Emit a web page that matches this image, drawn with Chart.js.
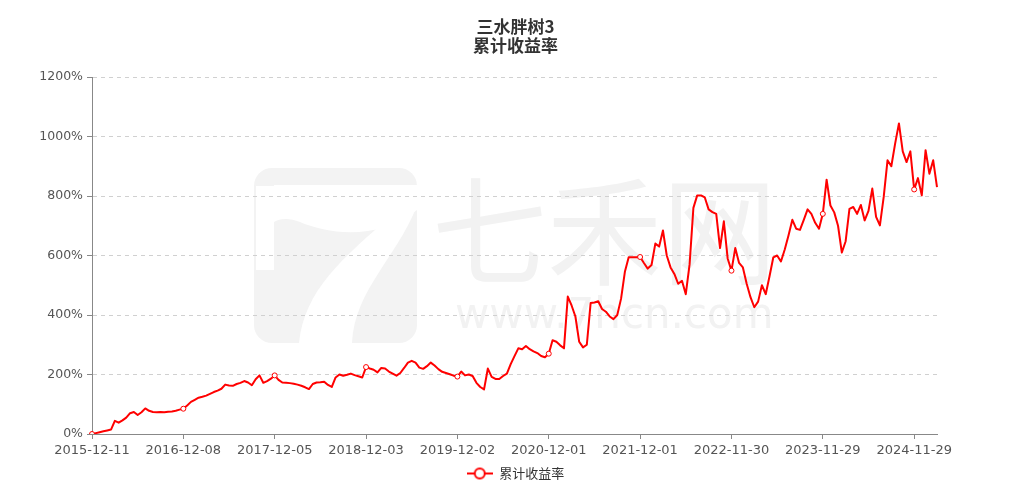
<!DOCTYPE html>
<html>
<head>
<meta charset="utf-8">
<script src="https://cdn.jsdelivr.net/npm/chart.js@4/dist/chart.umd.min.js"></script>
<style>
  html, body { margin: 0; padding: 0; background: #fff; }
  #wrap { width: 1013px; height: 488px; }
</style>
</head>
<body>
<div id="wrap"><canvas id="chart" width="1013" height="488"></canvas></div>
<script>
// x axis tick labels, one every 24 samples
const tickLabels = ["2015-12-11", "2016-12-08", "2017-12-05", "2018-12-03", "2019-12-02",
  "2020-12-01", "2021-12-01", "2022-11-30", "2023-11-29", "2024-11-29"];
const perTick = 24;

// cumulative return (%), one block per year
const ret2016 = [0, 3, 6, 9, 12, 15, 44, 38, 46, 55, 70, 74, 64, 73, 86, 78, 74, 73, 74, 73, 75, 76, 78, 82];
const ret2017 = [85, 96, 108, 115, 122, 125, 129, 135, 141, 146, 152, 166, 163, 162, 168, 172, 178, 173, 164, 184, 197, 172, 178, 186];
const ret2018 = [197, 182, 173, 172, 171, 169, 166, 162, 157, 151, 168, 173, 174, 176, 165, 158, 190, 200, 196, 199, 203, 198, 194, 190];
const ret2019 = [225, 220, 216, 207, 222, 220, 210, 203, 196, 205, 222, 240, 246, 240, 223, 219, 228, 240, 230, 218, 209, 205, 201, 196];
const ret2020 = [193, 210, 197, 200, 195, 172, 158, 150, 220, 192, 185, 185, 195, 203, 235, 262, 288, 285, 296, 285, 278, 272, 262, 258];
const ret2021 = [270, 315, 310, 298, 288, 462, 432, 395, 310, 291, 300, 440, 442, 446, 420, 411, 395, 386, 400, 455, 545, 594, 594, 594];
const ret2022 = [595, 575, 556, 568, 640, 630, 684, 600, 560, 538, 505, 515, 470, 570, 760, 802, 802, 795, 755, 746, 740, 625, 715, 590];
const ret2023 = [549, 625, 575, 560, 505, 460, 426, 445, 500, 470, 530, 594, 600, 580, 620, 668, 720, 690, 686, 720, 755, 740, 710, 690];
const ret2024 = [740, 855, 768, 745, 700, 610, 648, 757, 763, 740, 770, 718, 750, 825, 730, 701, 797, 920, 900, 976, 1044, 950, 914, 950];
const ret2025 = [822, 860, 802, 954, 875, 920, 830];

const values = [].concat(ret2016, ret2017, ret2018, ret2019, ret2020, ret2021, ret2022, ret2023, ret2024, ret2025);
const labels = values.map((v, i) => (i % perTick === 0 ? tickLabels[i / perTick] : ""));

const red = "#ff0000";

// legend symbol: line with a hollow circle
const legendIcon = document.createElement("canvas");
legendIcon.width = 26;
legendIcon.height = 14;
(() => {
  const c = legendIcon.getContext("2d");
  c.strokeStyle = red;
  c.lineWidth = 2;
  c.beginPath();
  c.moveTo(0, 7);
  c.lineTo(26, 7);
  c.stroke();
  c.fillStyle = "#fff";
  c.beginPath();
  c.arc(13, 7, 5, 0, Math.PI * 2);
  c.fill();
  c.stroke();
})();

// faint site watermark behind the plot
const watermark = {
  id: "watermark",
  beforeDraw(chart) {
    const ctx = chart.ctx;
    ctx.save();
    ctx.fillStyle = "#f3f3f3";
    ctx.beginPath();
    ctx.roundRect(254, 168, 163, 175, 18);
    ctx.fill();
    ctx.fillStyle = "#fff";
    ctx.fillRect(256, 186, 18, 84);
    ctx.beginPath();
    ctx.moveTo(274, 185);
    ctx.lineTo(417, 185);
    ctx.lineTo(417, 210);
    ctx.bezierCurveTo(380, 240, 330, 235, 300, 222);
    ctx.bezierCurveTo(290, 218, 280, 218, 274, 222);
    ctx.closePath();
    ctx.fill();
    ctx.beginPath();
    ctx.moveTo(397, 211);
    ctx.lineTo(417, 206);
    ctx.bezierCurveTo(395, 260, 355, 290, 352, 343);
    ctx.lineTo(299, 343);
    ctx.bezierCurveTo(305, 290, 340, 260, 397, 211);
    ctx.closePath();
    ctx.fill();
    ctx.fillStyle = "#f2f2f2";
    ctx.textBaseline = "alphabetic";
    ctx.textAlign = "left";
    ctx.font = "118px 'Noto Sans CJK SC'";
    ctx.fillText("七禾网", 432, 276, 345);
    ctx.font = "42px 'DejaVu Sans'";
    ctx.fillText("www.7hcn.com", 455, 328, 320);
    ctx.restore();
  }
};

new Chart(document.getElementById("chart"), {
  type: "line",
  data: {
    labels: labels,
    datasets: [{
      label: "累计收益率",
      data: values,
      borderColor: red,
      backgroundColor: "#fff",
      borderWidth: 2,
      borderJoinStyle: "round",
      tension: 0,
      pointRadius: values.map((v, i) => (i % perTick === 0 ? 2.5 : 0)),
      pointBackgroundColor: "#fff",
      pointBorderColor: red,
      pointBorderWidth: 1,
    }],
  },
  options: {
    responsive: false,
    animation: false,
    devicePixelRatio: 1,
    layout: { padding: { left: 18, right: 0, top: 0, bottom: -2 } },
    plugins: {
      title: {
        display: true,
        text: ["三水胖树3", "累计收益率"],
        color: "#333",
        font: { family: "'Noto Sans CJK SC'", size: 17, weight: "bold", lineHeight: 1.15 },
        padding: { top: 16.7, bottom: 21.2 },
      },
      legend: {
        position: "bottom",
        labels: {
          usePointStyle: true,
          pointStyle: legendIcon,
          pointStyleWidth: 26,
          color: "#333",
          font: { family: "'Noto Sans CJK SC'", size: 13 },
          padding: 5,
        },
      },
      tooltip: { enabled: false },
    },
    scales: {
      x: {
        offset: false,
        afterBuildTicks: (scale) => {
          scale.ticks = scale.ticks.filter((t) => t.value % perTick === 0);
        },
        afterFit: (scale) => { scale.height = 28; },
        ticks: {
          autoSkip: false,
          maxRotation: 0,
          padding: 4,
          color: "#555",
          font: { family: "'DejaVu Sans'", size: 13 },
        },
        grid: { drawOnChartArea: false, drawTicks: true, tickLength: 5, tickColor: "#888" },
        border: { color: "#888", width: 1 },
      },
      y: {
        min: 0,
        max: 1200,
        afterFit: (scale) => { scale.width = 74; },
        ticks: {
          stepSize: 200,
          padding: 4,
          color: "#555",
          font: { family: "'DejaVu Sans'", size: 12.5 },
          callback: (v) => v + "%",
        },
        grid: { color: "#d0d0d0", tickLength: 5, tickColor: "#888", drawTicks: true },
        border: { color: "#888", width: 1, dash: [4, 4] },
      },
      // empty right-hand spacer so the title and legend centre like the original
      yRight: {
        position: "right",
        min: 0,
        max: 1200,
        afterFit: (scale) => { scale.width = 76; },
        ticks: { display: false },
        grid: { display: false },
        border: { display: false },
      },
    },
  },
  plugins: [watermark],
});
</script>
</body>
</html>
